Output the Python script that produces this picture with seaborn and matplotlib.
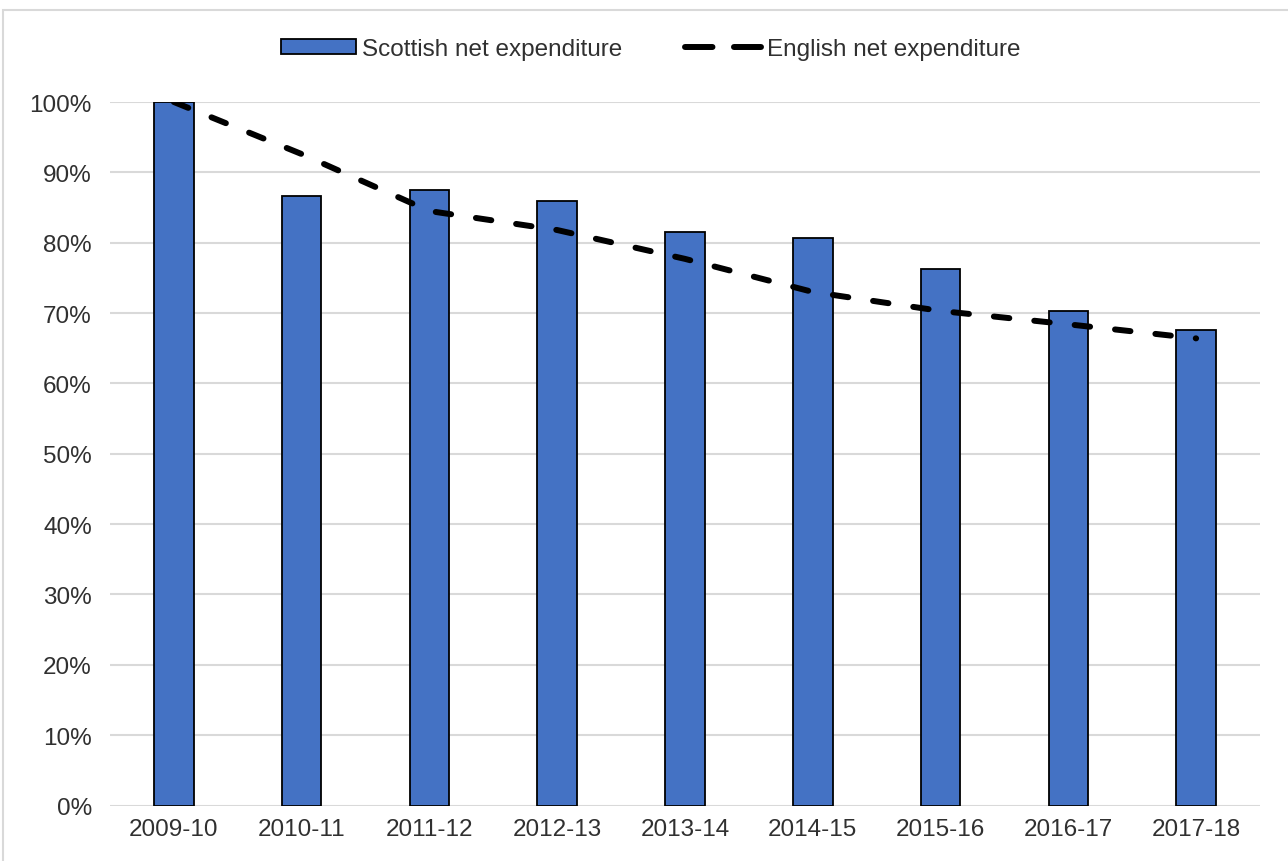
import matplotlib
matplotlib.use("Agg")
import matplotlib.pyplot as plt
from matplotlib.patches import Rectangle, Patch
from matplotlib.lines import Line2D
from matplotlib.ticker import PercentFormatter
import seaborn as sns
import pandas as pd

# Net expenditure relative to 2009-10 (percent)
years = ["2009-10", "2010-11", "2011-12", "2012-13", "2013-14",
         "2014-15", "2015-16", "2016-17", "2017-18"]
scottish = [100.0, 86.6, 87.5, 85.9, 81.5, 80.6, 76.3, 70.3, 67.6]
english = [100.0, 92.6, 84.5, 81.8, 77.7, 73.0, 70.3, 68.4, 66.4]
yticks = [0, 10, 20, 30, 40, 50, 60, 70, 80, 90, 100]

df = pd.DataFrame({"year": years, "scottish": scottish, "english": english})

sns.set_theme(style="white")
plt.rcParams["font.family"] = ["Liberation Sans", "DejaVu Sans"]
text_color = "#303030"
bar_color = "#4472C4"
grid_color = "#D9D9D9"
font_size = 17.5

fig = plt.figure(figsize=(12.88, 8.62), dpi=100)
ax = fig.add_axes([110 / 1288, 1 - 806.5 / 862, 1150 / 1288, 703.5 / 862])

sns.barplot(data=df, x="year", y="scottish", order=years, color=bar_color,
            saturation=1, width=0.31, edgecolor="black", linewidth=1.3,
            ax=ax, zorder=3)
sns.lineplot(data=df, x="year", y="english", color="black", linewidth=4.3,
             ax=ax, zorder=4, dashes=False)
line = ax.lines[-1]
line.set_dashes((2.6, 4.2))
line.set_dash_capstyle("round")

ax.set_xlim(-0.5, len(years) - 0.5)
ax.set_ylim(0, 100)
ax.set_yticks(yticks)
ax.yaxis.set_major_formatter(PercentFormatter(decimals=0))
ax.grid(axis="y", color=grid_color, linewidth=1.5, zorder=0)
ax.grid(axis="x", visible=False)
for s in ax.spines.values():
    s.set_visible(False)
ax.set_xlabel("")
ax.set_ylabel("")
ax.tick_params(axis="y", length=0, pad=13, labelsize=font_size,
               labelcolor=text_color)
ax.tick_params(axis="x", length=0, pad=9, labelsize=font_size,
               labelcolor=text_color)

handles = [
    Patch(facecolor=bar_color, edgecolor="black", linewidth=1.3),
    Line2D([0], [0], color="black", linewidth=4.3, dashes=(4.6, 3.6),
           dash_capstyle="round"),
]
fig.legend(handles, ["Scottish net expenditure", "English net expenditure"],
           loc="center", bbox_to_anchor=(0.505, 1 - 50 / 862),
           bbox_transform=fig.transFigure, ncol=2, frameon=False,
           fontsize=font_size, labelcolor=text_color, handlelength=3.1,
           handleheight=0.55, handletextpad=0.25, columnspacing=2.6)

# Chart frame (top and left edges visible)
fig.patches.append(Rectangle((3 / 1288, -0.1), 1.2, 1 - 11 / 862 + 0.1,
                             transform=fig.transFigure, fill=False,
                             edgecolor=grid_color, linewidth=1.5))

fig.savefig("out.png", dpi=100)
